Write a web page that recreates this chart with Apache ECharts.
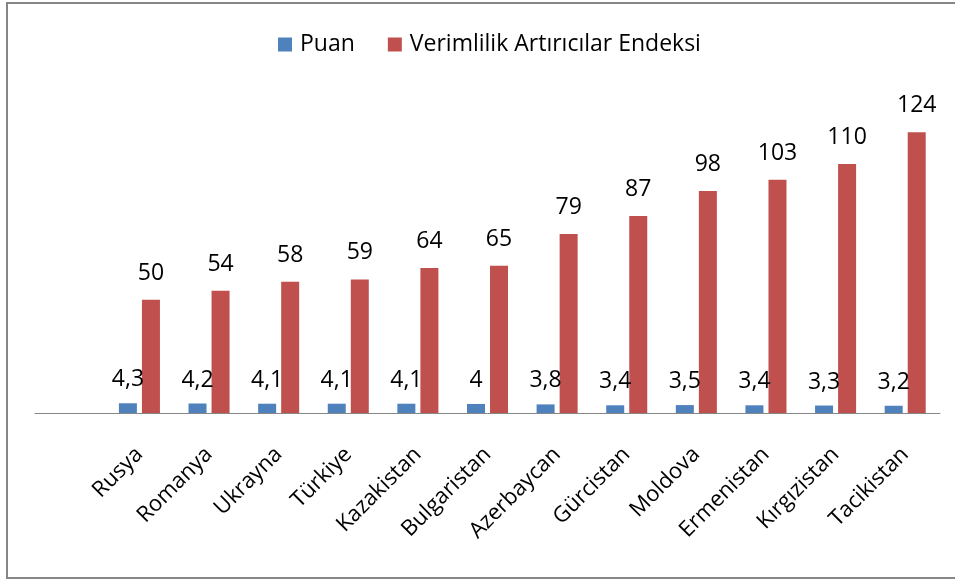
<!DOCTYPE html>
<html>
<head>
<meta charset="utf-8">
<script src="https://cdn.jsdelivr.net/npm/echarts@6/dist/echarts.min.js"></script>
<style>
  html, body { margin: 0; padding: 0; background: #fff; }
  #echarts { width: 955px; height: 581px; }
</style>
</head>
<body>
<div id="echarts"></div>
<script>
// first category is empty in the original sheet
var countries = ['', 'Rusya', 'Romanya', 'Ukrayna', 'Türkiye', 'Kazakistan', 'Bulgaristan',
    'Azerbaycan', 'Gürcistan', 'Moldova', 'Ermenistan', 'Kırgızistan', 'Tacikistan'];
var puan = [null, 4.3, 4.2, 4.1, 4.1, 4.1, 4, 3.8, 3.4, 3.5, 3.4, 3.3, 3.2];
var endeks = [null, 50, 54, 58, 59, 64, 65, 79, 87, 98, 103, 110, 124];
var seriesNames = ['Puan', 'Verimlilik Artırıcılar Endeksi'];

var FONT = '"Open Sans", "DejaVu Sans", sans-serif';

var myChart = echarts.init(document.getElementById('echarts'));

var option = {
    backgroundColor: '#fff',
    color: ['#4F81BD', '#C0504D'],
    animation: false,
    textStyle: { fontFamily: FONT },
    graphic: [
        {
            type: 'rect',
            shape: { x: 7, y: 3, width: 1000, height: 575 },
            style: { fill: 'none', stroke: '#868686', lineWidth: 2 },
            silent: true
        }
    ],
    legend: {
        left: 273,
        top: 28,
        itemWidth: 14,
        itemHeight: 14,
        itemGap: 33,
        icon: 'rect',
        textStyle: { fontSize: 23, color: '#000', fontFamily: FONT, padding: [0, 0, 0, 3] },
        data: seriesNames
    },
    grid: {
        left: 35,
        right: 15,
        top: 96,
        bottom: 168,
        containLabel: false
    },
    xAxis: {
        type: 'category',
        data: countries,
        axisLine: { lineStyle: { color: '#868686', width: 1 } },
        axisTick: { show: false },
        axisLabel: {
            interval: 0,
            rotate: 45,
            margin: 38,
            fontSize: 22,
            color: '#000',
            fontFamily: FONT
        }
    },
    yAxis: {
        type: 'value',
        min: 0,
        max: 140,
        show: false,
        splitLine: { show: false }
    },
    series: [
        {
            name: seriesNames[0],
            type: 'bar',
            barWidth: 18,
            barGap: '28%',
            data: puan,
            label: {
                show: true,
                position: 'top',
                distance: 12,
                fontSize: 23,
                color: '#000',
                fontFamily: FONT,
                formatter: function (p) { return String(p.value).replace('.', ','); }
            }
        },
        {
            name: seriesNames[1],
            type: 'bar',
            barWidth: 18,
            data: endeks,
            label: {
                show: true,
                position: 'top',
                distance: 15,
                fontSize: 23,
                color: '#000',
                fontFamily: FONT
            }
        }
    ]
};
myChart.setOption(option);
</script>
</body>
</html>
